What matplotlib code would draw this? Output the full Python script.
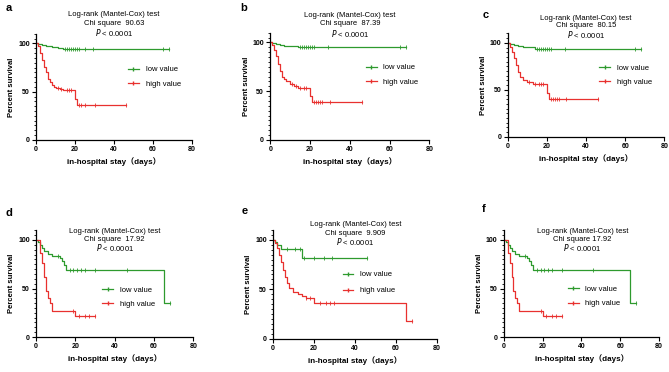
import numpy as np
import matplotlib.pyplot as plt
from matplotlib.ticker import MultipleLocator

plt.rcParams['font.family'] = ['Liberation Sans', 'Noto Sans CJK SC', 'DejaVu Sans']

panel_labels = ['a', 'b', 'c', 'd', 'e', 'f']
chi_values = ['90.63', '87.39', '80.15', '17.92', '9.909', '17.92']
chi_sep = ['  ', '  ', '  ', '  ', '  ', ' ']
series_names = ['low value', 'high value']

# panel a
a_low_t = [0, 1, 3, 5, 8, 11, 13, 14, 68]
a_low_s = [100, 99, 98, 97, 96, 95.5, 95, 94, 94]
a_low_c = [15, 16, 17, 18, 19, 20, 21, 22, 25, 29, 65, 68]
a_high_t = [0, 1, 2, 3, 4, 5, 6, 7, 8, 9, 10, 12, 14, 20, 21, 46]
a_high_s = [100, 97, 90, 83, 76, 70, 63, 60, 57, 55, 54, 53, 52, 42, 36, 36]
a_high_c = [11, 13, 16, 17, 18, 22, 23, 25, 30, 46]

# panel b
b_low_t = [0, 1, 3, 5, 7, 10, 14, 68]
b_low_s = [100, 99, 98, 97, 96.5, 96, 95, 95]
b_low_c = [15, 16, 17, 18, 19, 20, 21, 22, 29, 65, 68]
b_high_t = [0, 1, 2, 3, 4, 5, 6, 7, 8, 10, 12, 14, 20, 21, 46]
b_high_s = [100, 97, 92, 86, 78, 71, 65, 62, 60, 57, 55, 53, 45, 39, 39]
b_high_c = [11, 13, 15, 17, 18, 22, 23, 24, 25, 26, 30, 46]

# panel c
c_low_t = [0, 1, 3, 5, 8, 11, 14, 68]
c_low_s = [100, 99, 98, 97, 96, 95.5, 94, 94]
c_low_c = [15, 16, 17, 18, 19, 20, 21, 22, 29, 65, 68]
c_high_t = [0, 1, 2, 3, 4, 5, 6, 8, 10, 13, 20, 21, 46]
c_high_s = [100, 96, 90, 84, 76, 69, 64, 60, 58, 56, 47, 40, 40]
c_high_c = [11, 14, 16, 17, 18, 22, 23, 24, 25, 26, 30, 46]

# panel d
d_low_t = [0, 1, 2, 3, 4, 6, 8, 10, 12, 13, 14, 15, 65, 68]
d_low_s = [100, 98, 95, 92, 89, 86, 84, 83, 81, 78, 74, 69, 35, 35]
d_low_c = [11, 17, 19, 21, 23, 25, 30, 46, 68]
d_high_t = [0, 2, 3, 4, 5, 6, 7, 8, 20, 30]
d_high_s = [100, 87, 76, 62, 47, 40, 35, 27, 22, 22]
d_high_c = [19, 22, 25, 27, 30]

# panel e
e_low_t = [0, 1, 2, 4, 14, 46]
e_low_s = [100, 98, 95, 91, 82, 82]
e_low_c = [7, 11, 13, 15, 20, 25, 29, 46]
e_high_t = [0, 1, 2, 3, 4, 5, 6, 7, 8, 10, 12, 14, 16, 20, 65, 68]
e_high_s = [100, 97, 92, 85, 78, 70, 62, 56, 51, 47, 45, 43, 41, 36, 18, 18]
e_high_c = [16, 18, 23, 26, 28, 30, 68]

# panel f
f_low_t = [0, 1, 2, 3, 4, 6, 8, 10, 12, 13, 14, 15, 65, 68]
f_low_s = [100, 98, 95, 92, 89, 86, 84, 83, 81, 78, 74, 69, 35, 35]
f_low_c = [11, 17, 19, 21, 23, 25, 30, 46, 68]
f_high_t = [0, 2, 3, 4, 5, 6, 7, 8, 20, 30]
f_high_s = [100, 87, 76, 62, 47, 40, 35, 27, 22, 22]
f_high_c = [19, 22, 25, 27, 30]

low_data = [(a_low_t, a_low_s, a_low_c), (b_low_t, b_low_s, b_low_c),
            (c_low_t, c_low_s, c_low_c), (d_low_t, d_low_s, d_low_c),
            (e_low_t, e_low_s, e_low_c), (f_low_t, f_low_s, f_low_c)]
high_data = [(a_high_t, a_high_s, a_high_c), (b_high_t, b_high_s, b_high_c),
             (c_high_t, c_high_s, c_high_c), (d_high_t, d_high_s, d_high_c),
             (e_high_t, e_high_s, e_high_c), (f_high_t, f_high_s, f_high_c)]

# axes boxes in figure fraction (left, bottom, width, height)
boxes = [(0.054, 0.624, 0.233, 0.285), (0.404, 0.624, 0.238, 0.288),
         (0.759, 0.632, 0.234, 0.278), (0.054, 0.094, 0.235, 0.287),
         (0.408, 0.089, 0.245, 0.293), (0.753, 0.094, 0.232, 0.287)]
# legend anchor (left, vertical centre) in axes coords
leg_pos = [(0.59, 0.595), (0.60, 0.607), (0.584, 0.595),
           (0.42, 0.375), (0.425, 0.516), (0.413, 0.38)]
leg_space = [0.9, 0.9, 0.9, 0.9, 1.1, 0.9]
# y of the three text lines in axes coords, and x centre
text_y = [(1.179, 1.094, 1.009), (1.162, 1.084, 0.997), (1.148, 1.074, 0.993),
          (0.993, 0.916, 0.837), (1.05, 0.967, 0.891), (0.993, 0.916, 0.837)]
text_x = [0.5, 0.5, 0.5, 0.5, 0.503, 0.506]
letter_pos = [(6, 8), (240, 8), (483, 15), (6, 213), (242, 211), (482, 209)]

green = '#2e9a2e'
red = '#e8312f'

fig = plt.figure(figsize=(6.69, 3.72), dpi=100)


def step_value(t, s, x):
    i = np.searchsorted(t, x, side='right') - 1
    return np.array(s)[i]


for k in range(6):
    ax = fig.add_axes(boxes[k])
    for (t, s, c), col, name in [(low_data[k], green, series_names[0]),
                                 (high_data[k], red, series_names[1])]:
        ax.step(t, s, where='post', color=col, lw=0.9, label=name)
        cy = step_value(t, s, c)
        ax.plot(c, cy, ls='none', marker='|', ms=2.5, mew=0.6, color=col)
    ax.set_xlim(0, 80)
    ax.set_ylim(0, 110)
    ax.set_xticks([0, 20, 40, 60, 80])
    ax.set_yticks([0, 50, 100])
    ax.yaxis.set_minor_locator(MultipleLocator(5))
    ax.spines['top'].set_visible(False)
    ax.spines['right'].set_visible(False)
    for sp in ['left', 'bottom']:
        ax.spines[sp].set_linewidth(0.9)
    ax.tick_params(which='major', length=3, width=0.8, labelsize=5, pad=1.5)
    ax.tick_params(which='minor', length=1.5, width=0.6)
    for lab in ax.get_xticklabels() + ax.get_yticklabels():
        lab.set_fontweight('bold')
    ax.set_ylabel('Percent survival', fontsize=5.5, fontweight='bold', labelpad=2)
    ax.set_xlabel('in-hospital stay（days）', fontsize=5.8, fontweight='bold', labelpad=3)
    leg = ax.legend(loc='center left', bbox_to_anchor=leg_pos[k], frameon=False,
                    fontsize=5.5, handlelength=1.4, labelspacing=leg_space[k],
                    handletextpad=0.9, borderpad=0, borderaxespad=0)
    for h in leg.get_lines():
        h.set_marker('|')
        h.set_markersize(2.5)
        h.set_markevery([1])
    lines = ['Log-rank (Mantel-Cox) test', 'Chi square' + chi_sep[k] + chi_values[k],
             '$\\it{P}$ < 0.0001']
    for line, y in zip(lines, text_y[k]):
        ax.text(text_x[k], y, line, transform=ax.transAxes, ha='center',
                va='center', fontsize=5.5)
    fig.text(letter_pos[k][0] / 669, 1 - letter_pos[k][1] / 372, panel_labels[k],
             fontsize=8, fontweight='bold', ha='left', va='center')

fig.savefig('out.png', dpi=100)
